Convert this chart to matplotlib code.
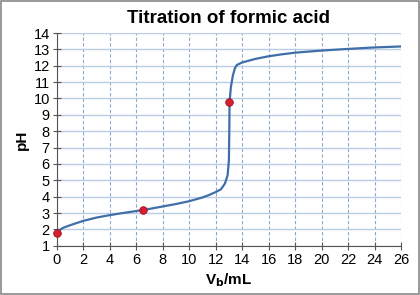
import matplotlib.pyplot as plt

plt.rcParams['font.family'] = ['Liberation Sans', 'DejaVu Sans']

# titration curve
vb = [0, 0.5, 1, 2, 3, 4, 5, 6, 6.5, 7, 8, 9, 10, 11, 11.5, 12, 12.4, 12.7, 12.9,
      13.0, 13.03, 13.05, 13.15, 13.3, 13.45, 13.6, 14, 15, 16, 17, 18, 20, 22, 24, 26]
ph = [1.85, 2.1, 2.25, 2.52, 2.72, 2.87, 3.0, 3.12, 3.18, 3.25, 3.4, 3.55, 3.72, 3.95,
      4.1, 4.28, 4.45, 4.8, 5.3, 6.2, 8.0, 9.8, 10.7, 11.4, 11.85, 12.05, 12.2, 12.42,
      12.58, 12.7, 12.8, 12.93, 13.03, 13.12, 13.18]

# highlighted points
pts_x = [0, 6.5, 13.03]
pts_y = [1.8, 3.2, 9.8]

fig = plt.figure(figsize=(4.2, 2.95), dpi=100)
ax = fig.add_axes([0.135, 0.167, 0.82, 0.721])

ax.plot(vb, ph, color='#3f6ea8', lw=1.6, zorder=3)
ax.scatter(pts_x, pts_y, s=30, color='#d42030', edgecolor='#a01020', lw=0.6, zorder=4, clip_on=False)

ax.set_xlim(0, 26)
ax.set_ylim(1, 14)
ax.set_xticks(range(0, 27, 2))
ax.set_yticks(range(1, 15))
ax.grid(axis='y', color='#b9cde6', lw=1.0, ls='-')
ax.grid(axis='x', color='#8ea8c8', lw=0.8, ls=(0, (3, 2)))
ax.tick_params(labelsize=10.5, length=6, direction='inout', color='#555555', pad=2)

for s in ['top', 'right']:
    ax.spines[s].set_visible(False)
for s in ['left', 'bottom']:
    ax.spines[s].set_color('#555555')

ax.set_title('Titration of formic acid', fontsize=13.5, fontweight='bold', pad=7)
ax.set_ylabel('pH', fontsize=11, fontweight='bold', labelpad=3)
ax.set_xlabel('V$_\\mathbf{b}$/mL', fontsize=11, fontweight='bold', labelpad=3)

fig.patches.append(plt.Rectangle((0.003, 0.003), 0.994, 0.994, transform=fig.transFigure,
                                 fill=False, edgecolor='#888888', lw=1.2))

fig.savefig('out.png', dpi=100)
